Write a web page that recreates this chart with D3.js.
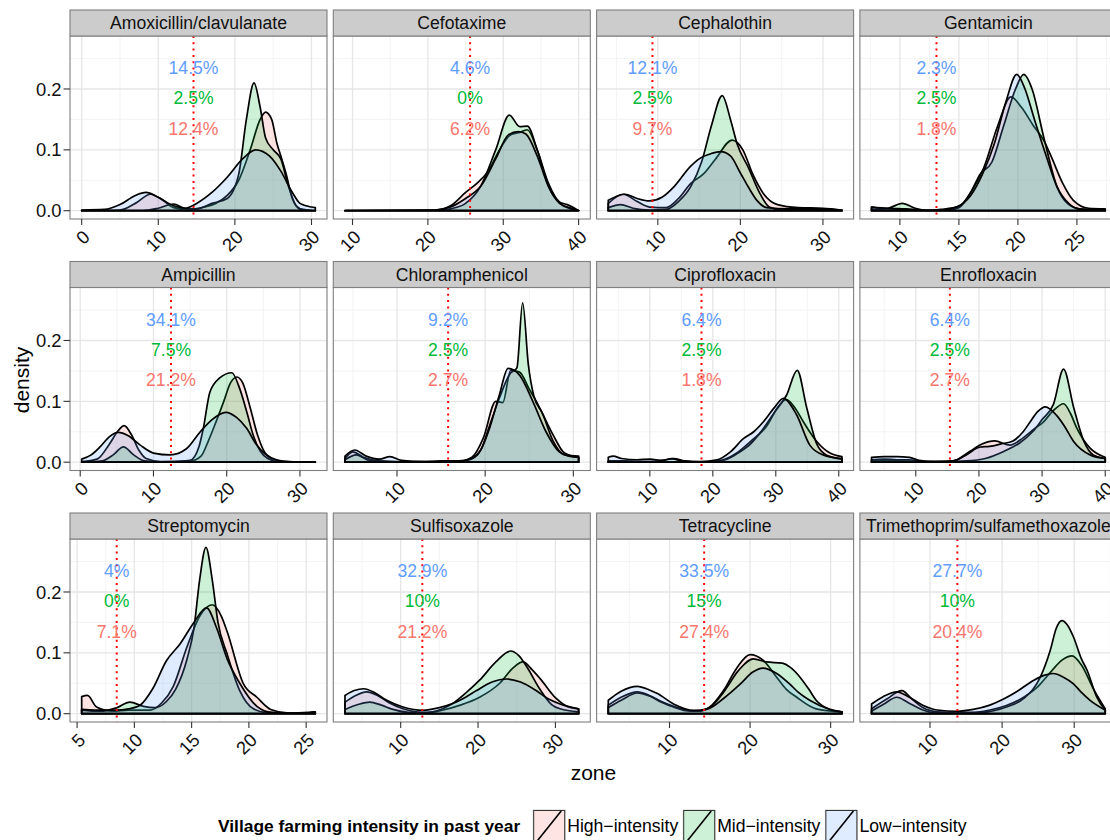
<!DOCTYPE html>
<html>
<head>
<meta charset="utf-8">
<script src="https://cdn.jsdelivr.net/npm/d3@7"></script>
<style>
  html, body { margin: 0; padding: 0; background: #ffffff; }
  svg { display: block; font-family: "Liberation Sans", Arial, Helvetica, sans-serif; }
</style>
</head>
<body>
<svg id="chart" width="1110" height="840"></svg>
<script>
// Antibiotics, one facet each (free x scale per facet)
const drugs = [
  "Amoxicillin/clavulanate", "Cefotaxime", "Cephalothin", "Gentamicin",
  "Ampicillin", "Chloramphenicol", "Ciprofloxacin", "Enrofloxacin",
  "Streptomycin", "Sulfisoxazole", "Tetracycline", "Trimethoprim/sulfamethoxazole"
];

// Resistance breakpoint (zone diameter) per drug
const cutoffs = [14.6, 25.6, 9.35, 13.1, 12.4, 15.8, 18.2, 15.4, 8.46, 12.8, 14.3, 13.8];

// Share resistant by village farming intensity
const pctLow  = ["14.5%", "4.6%", "12.1%", "2.3%", "34.1%", "9.2%", "6.4%", "6.4%", "4%", "32.9%", "33.5%", "27.7%"];
const pctMid  = ["2.5%", "0%", "2.5%", "2.5%", "7.5%", "2.5%", "2.5%", "2.5%", "0%", "10%", "15%", "10%"];
const pctHigh = ["12.4%", "6.2%", "9.7%", "1.8%", "21.2%", "2.7%", "1.8%", "2.7%", "7.1%", "21.2%", "27.4%", "20.4%"];

// Axis breaks per facet
const xTicks = [
  [0, 10, 20, 30], [10, 20, 30, 40], [10, 20, 30], [10, 15, 20, 25],
  [0, 10, 20, 30], [10, 20, 30], [10, 20, 30, 40], [10, 20, 30, 40],
  [5, 10, 15, 20, 25], [10, 20, 30], [10, 20, 30], [10, 20, 30]
];
const yTicks = [0, 0.1, 0.2];

// Density curves: [zone, density] per facet
const highCurves = [
  [[0,0],[5,0.001],[7,0.012],[9,0.027],[10.5,0.018],[12,0.005],[14,0.002],[16,0.006],[17.5,0.012],[19,0.025],[20.5,0.05],[22,0.1],[23.3,0.15],[24,0.162],[24.8,0.15],[25.5,0.11],[26,0.09],[26.7,0.06],[27.5,0.02],[28.5,0.003],[30.5,0]],
  [[9,0],[21,0.001],[23,0.008],[25,0.03],[26.5,0.045],[28,0.065],[29.5,0.1],[31,0.125],[32,0.128],[33.2,0.133],[34.5,0.1],[36,0.045],[37.5,0.014],[38.5,0.01],[40,0]],
  [[4,0.012],[5.8,0.027],[7.5,0.015],[9,0.006],[11,0.005],[12.5,0.02],[14,0.045],[15.5,0.06],[17,0.085],[19,0.116],[20.3,0.1],[21.5,0.06],[22.8,0.028],[24.5,0.01],[27,0.005],[30,0.004],[32.3,0.001]],
  [[7.6,0.006],[9,0.003],[10.5,0.002],[12,0],[13.5,0.002],[15,0.007],[16,0.03],[17.1,0.07],[18.3,0.14],[19.4,0.187],[20.3,0.17],[21.3,0.14],[22.2,0.115],[22.8,0.09],[23.8,0.045],[24.7,0.017],[26,0.004],[27.4,0.003]],
  [[0.2,0.001],[2.3,0.005],[4,0.03],[5.2,0.052],[6,0.06],[7,0.045],[8,0.02],[9,0.006],[11,0.001],[15,0.002],[16.5,0.01],[17.5,0.035],[18.5,0.065],[19.6,0.1],[20.5,0.13],[21.4,0.14],[22.2,0.13],[23.2,0.09],[24.2,0.045],[25.2,0.016],[26.5,0.004],[28,0.001],[32.1,0]],
  [[4.1,0.006],[5,0.017],[6.2,0.008],[8,0.002],[10,0.001],[14,0.001],[17,0.001],[18.5,0.008],[19.8,0.04],[21.2,0.1],[22,0.098],[22.9,0.151],[23.9,0.148],[25,0.12],[25.8,0.1],[26.5,0.08],[27.7,0.045],[29,0.015],[30.6,0.008]],
  [[3.4,0.001],[8,0.001],[15,0],[20,0.001],[22,0.005],[23.8,0.015],[26,0.034],[28.6,0.06],[30.3,0.09],[31.7,0.103],[33,0.09],[34.4,0.066],[36.5,0.034],[38.6,0.015],[40.5,0.009]],
  [[3,0.002],[8,0.002],[12,0.001],[15,0.001],[16.5,0.004],[18.6,0.018],[20.5,0.03],[22.5,0.035],[24.9,0.028],[27,0.04],[28.8,0.055],[30.2,0.066],[31.8,0.085],[33.4,0.096],[34.5,0.08],[35.5,0.056],[37.6,0.023],[40,0.008]],
  [[5.4,0.028],[5.9,0.03],[6.7,0.011],[8.1,0.004],[9.5,0.006],[10.5,0.006],[11.4,0.006],[12.4,0.018],[13.4,0.045],[14.6,0.11],[15.7,0.16],[16.8,0.179],[17.6,0.16],[18.1,0.135],[19.5,0.05],[20.7,0.027],[21.9,0.007],[23.5,0.001],[25.2,0.002],[25.6,0.003],[25.8,0.003]],
  [[2.8,0.019],[4.2,0.03],[5.6,0.036],[7,0.03],[8.5,0.018],[10.3,0.008],[12,0.003],[13.5,0.002],[15.5,0.006],[17.7,0.014],[20.2,0.027],[22.8,0.05],[24.5,0.075],[25.8,0.085],[27,0.072],[28,0.058],[30.1,0.025],[31.5,0.012],[33,0.008]],
  [[2.4,0.014],[4,0.027],[6,0.036],[7.5,0.03],[9,0.02],[10.5,0.012],[12,0.006],[13.5,0.004],[15,0.011],[16.7,0.038],[18.4,0.076],[20,0.097],[21.6,0.088],[23.3,0.06],[24.5,0.04],[25.8,0.027],[28.2,0.008],[31.4,0.003]],
  [[1.9,0.008],[4,0.024],[6.1,0.038],[7.5,0.024],[9,0.01],[11,0.003],[13.7,0.002],[16,0.002],[18.3,0.006],[20.5,0.013],[23,0.027],[25,0.045],[26.7,0.068],[28.3,0.088],[29.7,0.095],[31,0.08],[32.7,0.04],[34.3,0.008]]
];

const midCurves = [
  [[0,0],[8,0],[10,0.004],[12,0.011],[13.5,0.004],[15,0.003],[17,0.012],[19,0.02],[20.5,0.06],[21.5,0.15],[22.5,0.21],[23.3,0.17],[24,0.12],[25,0.1],[26,0.085],[27,0.04],[28,0.008],[29,0.001],[30.5,0]],
  [[9,0],[21,0],[23,0.003],[25,0.012],[27,0.04],[29,0.1],[30.8,0.157],[32.2,0.138],[33.2,0.139],[34.5,0.1],[36,0.04],[37.5,0.012],[39,0.003],[40,0]],
  [[4,0.005],[5.5,0.01],[7,0.004],[9,0.001],[11,0.002],[12.5,0.015],[14,0.04],[15.3,0.08],[16.5,0.14],[17.8,0.189],[18.8,0.15],[19.6,0.11],[21,0.07],[22.3,0.03],[23.5,0.006],[25,0.001],[32.3,0]],
  [[7.6,0.002],[9,0.004],[10.2,0.012],[11.3,0.004],[12.5,0],[14,0.001],[15,0.005],[16,0.03],[16.8,0.06],[17.8,0.08],[18.8,0.14],[19.8,0.2],[20.5,0.224],[21.2,0.2],[22.2,0.12],[23.3,0.04],[24.2,0.012],[25.2,0.003],[27.4,0]],
  [[0.2,0],[3,0.002],[4.5,0.012],[5.9,0.025],[7.3,0.012],[8.8,0.002],[12,0],[15,0.003],[16.2,0.025],[16.8,0.055],[17.7,0.115],[19,0.138],[20.7,0.147],[21.8,0.12],[22.8,0.08],[23.6,0.045],[24.6,0.018],[25.6,0.006],[27,0.001],[32.1,0]],
  [[4.1,0.004],[5.4,0.012],[6.8,0.003],[9,0.001],[12,0],[16,0],[18,0.003],[19.5,0.02],[20.5,0.06],[21.6,0.105],[22.8,0.145],[23.6,0.155],[24.25,0.262],[24.9,0.16],[25.5,0.11],[26.5,0.08],[27.7,0.035],[29,0.012],[30.6,0.01]],
  [[3.4,0.002],[6,0.002],[9,0.001],[12,0.003],[13.8,0.006],[15.5,0.002],[18,0],[20,0.001],[22,0.004],[24,0.015],[26,0.03],[28,0.055],[30,0.085],[31.7,0.11],[33.4,0.151],[34.9,0.09],[36.5,0.03],[38,0.012],[40.5,0.005]],
  [[3,0.004],[5,0.005],[7,0.004],[9,0.004],[11,0.001],[15,0.001],[18,0.002],[21,0.006],[24,0.018],[26.5,0.032],[28.5,0.05],[30,0.07],[31.8,0.095],[33.4,0.153],[35,0.09],[36.6,0.035],[38.1,0.012],[40,0.006]],
  [[5.4,0.006],[7,0.004],[8.5,0.01],[9.6,0.019],[10.8,0.012],[11.8,0.01],[12.8,0.02],[13.6,0.04],[14.6,0.09],[15.2,0.14],[15.7,0.22],[16.25,0.2734],[16.8,0.22],[17.3,0.15],[18.1,0.098],[19.2,0.038],[20.4,0.008],[21.5,0.002],[25.8,0]],
  [[2.8,0.007],[4.5,0.015],[6,0.019],[7.5,0.014],[9,0.007],[11,0.002],[12.5,0.001],[14.5,0.004],[16.5,0.015],[18.5,0.035],[20.2,0.055],[22.3,0.085],[24.2,0.103],[25.3,0.095],[26.3,0.077],[28,0.04],[29.5,0.015],[30.6,0.008],[33,0.003]],
  [[2.4,0.01],[4,0.022],[6,0.034],[7.5,0.029],[9,0.019],[10.5,0.011],[12,0.005],[13.5,0.004],[15,0.01],[16.7,0.035],[18.5,0.07],[20.4,0.09],[22,0.085],[24,0.083],[25,0.076],[26.2,0.06],[27.3,0.04],[28.2,0.022],[29.9,0.007],[31.4,0.003]],
  [[1.9,0.004],[3.5,0.015],[5.4,0.027],[7,0.018],[9,0.006],[11,0.001],[14,0.001],[17,0.002],[20.6,0.011],[23,0.025],[25.3,0.06],[26.7,0.105],[27.5,0.14],[28.3,0.153],[29.1,0.145],[29.9,0.126],[31,0.09],[31.8,0.071],[33.1,0.028],[34.3,0.006]]
];

const lowCurves = [
  [[0,0.001],[3,0.002],[5,0.01],[7,0.025],[8.4,0.03],[10,0.022],[12,0.008],[13.5,0.004],[15,0.012],[17,0.03],[19,0.055],[21,0.085],[22.7,0.1],[24.5,0.09],[26,0.065],[27.5,0.03],[28.5,0.012],[30,0.006],[30.5,0.005]],
  [[9,0],[21,0.001],[23,0.006],[25,0.02],[27,0.04],[29,0.085],[30.7,0.125],[32,0.13],[33,0.126],[34.5,0.09],[36,0.04],[37.5,0.012],[39,0.004],[40,0]],
  [[4,0.017],[6,0.027],[7.5,0.02],[9,0.016],[10.5,0.022],[12,0.04],[13.9,0.072],[15.1,0.086],[16.5,0.094],[17.6,0.097],[18.8,0.09],[20,0.062],[21,0.038],[22,0.017],[23.2,0.005],[26,0.003],[30,0.003],[32.3,0.001]],
  [[7.6,0.006],[9,0.004],[10.5,0.003],[12,0.001],[13.5,0.001],[14.8,0.006],[16,0.025],[17,0.06],[18,0.11],[19,0.18],[19.9,0.224],[20.6,0.2],[21.4,0.15],[22.4,0.09],[23.3,0.04],[24.3,0.012],[25.2,0.003],[27.4,0.001]],
  [[0.2,0.005],[1.5,0.012],[2.7,0.025],[4,0.042],[5.2,0.049],[6.5,0.044],[8.2,0.028],[10,0.015],[12.3,0.012],[14.5,0.022],[16.4,0.05],[18,0.07],[19.9,0.082],[21.3,0.074],[22.7,0.056],[24,0.03],[25.3,0.013],[26.8,0.004],[28.5,0.001],[32.1,0]],
  [[4.1,0.01],[5.2,0.02],[6.5,0.01],[8,0.005],[9.2,0.009],[10.5,0.003],[13,0.001],[15,0.002],[17,0.002],[18.5,0.006],[19.5,0.02],[20.5,0.056],[21.6,0.11],[22.6,0.154],[23.9,0.143],[25.4,0.1],[26.9,0.05],[28.4,0.017],[29.5,0.01],[30.6,0.008]],
  [[3.4,0.008],[4.2,0.01],[5.5,0.006],[8,0.004],[10,0.005],[12,0.003],[13.5,0.006],[15,0.002],[18,0.001],[20.7,0.004],[22.8,0.017],[24.9,0.039],[26.5,0.05],[28,0.066],[29.8,0.09],[31.2,0.105],[33.3,0.078],[35.4,0.028],[37.5,0.012],[40.5,0.006]],
  [[3,0.008],[5,0.009],[7,0.009],[9,0.008],[10.5,0.003],[13,0.001],[15.9,0.002],[18,0.012],[20.2,0.025],[21.7,0.026],[23.5,0.03],[25.4,0.035],[27,0.05],[28.1,0.066],[29.3,0.083],[30.5,0.091],[32.3,0.077],[33.5,0.06],[35,0.034],[37.6,0.012],[40,0.006]],
  [[5.4,0.007],[6.5,0.006],[8.4,0.006],[9.5,0.008],[10.5,0.014],[11.6,0.041],[12.8,0.087],[14,0.115],[15.2,0.15],[16.3,0.174],[17.2,0.14],[18.1,0.09],[19.2,0.05],[20.7,0.012],[22,0.002],[25.8,0]],
  [[2.8,0.03],[4,0.038],[5.2,0.041],[6.7,0.034],[8.2,0.022],[10.3,0.011],[12.9,0.0055],[15,0.01],[16.8,0.017],[18.5,0.028],[19.8,0.038],[21.8,0.052],[23.7,0.057],[25.5,0.052],[27.5,0.038],[29,0.025],[30.6,0.016],[33,0.008]],
  [[2.4,0.022],[4,0.037],[6,0.045],[7.5,0.039],[8.5,0.033],[10.5,0.016],[13,0.0055],[14.8,0.008],[16.7,0.025],[18.8,0.049],[20.3,0.068],[21.6,0.075],[23.2,0.067],[24.9,0.049],[26,0.035],[27.4,0.022],[29.9,0.007],[31.4,0.003]],
  [[1.9,0.016],[3.5,0.028],[5.4,0.036],[7,0.028],[9,0.014],[11,0.006],[13.7,0.004],[16,0.007],[18.3,0.014],[20.2,0.024],[22,0.036],[24.4,0.055],[25.8,0.063],[27.1,0.066],[28.5,0.06],[29.9,0.049],[31,0.035],[32.2,0.022],[34.3,0.006]]
];

// Groups in drawing order (legend order as well)
const groups = [
  { label: "High\u2212intensity", color: "#F8766D", curves: highCurves, pct: pctHigh, labelY: 0.135 },
  { label: "Mid\u2212intensity",  color: "#00BA38", curves: midCurves,  pct: pctMid,  labelY: 0.185 },
  { label: "Low\u2212intensity",  color: "#619CFF", curves: lowCurves,  pct: pctLow,  labelY: 0.235 }
];

// ---- layout ----
const L = { left: 70, top: 10, pitchX: 263.3, pitchY: 251.5, panelW: 257, stripH: 26, panelH: 183 };
const FONT = 17.6;
const TICK_FONT = 18.4;
const svg = d3.select("#chart");

const maxD = d3.max(groups, g => d3.max(g.curves, c => d3.max(c, p => p[1])));
const y = d3.scaleLinear().domain([-0.05 * maxD, 1.05 * maxD]).range([L.panelH, 0]);

const defs = svg.append("defs");

drugs.forEach((name, i) => {
  const col = i % 4, row = Math.floor(i / 4);
  const px = L.left + col * L.pitchX;
  const sy = L.top + row * L.pitchY;
  const py = sy + L.stripH;

  const ext = d3.extent(groups.flatMap(g => g.curves[i].map(p => p[0])));
  const pad = (ext[1] - ext[0]) * 0.05;
  const x = d3.scaleLinear().domain([ext[0] - pad, ext[1] + pad]).range([0, L.panelW]);
  const [d0, d1] = x.domain();

  const g = svg.append("g").attr("transform", `translate(${px},${py})`);

  defs.append("clipPath").attr("id", "clip" + i)
    .append("rect").attr("width", L.panelW).attr("height", L.panelH);

  g.append("rect").attr("width", L.panelW).attr("height", L.panelH).attr("fill", "#ffffff");

  // minor grid
  const tks = xTicks[i];
  const step = tks[1] - tks[0];
  const xMinor = d3.range(tks[0] - step / 2, tks[tks.length - 1] + step, step).filter(v => v > d0 && v < d1);
  const yMinor = [-0.05, 0.05, 0.15, 0.25].filter(v => v > y.domain()[0] && v < y.domain()[1]);
  const grid = g.append("g").attr("clip-path", `url(#clip${i})`);
  grid.selectAll(".xmin").data(xMinor).join("line")
    .attr("x1", d => x(d)).attr("x2", d => x(d)).attr("y1", 0).attr("y2", L.panelH)
    .attr("stroke", "#F4F4F4").attr("stroke-width", 1.1);
  grid.selectAll(".ymin").data(yMinor).join("line")
    .attr("x1", 0).attr("x2", L.panelW).attr("y1", d => y(d)).attr("y2", d => y(d))
    .attr("stroke", "#F4F4F4").attr("stroke-width", 1.1);
  // major grid
  grid.selectAll(".xmaj").data(tks).join("line")
    .attr("x1", d => x(d)).attr("x2", d => x(d)).attr("y1", 0).attr("y2", L.panelH)
    .attr("stroke", "#E6E6E6").attr("stroke-width", 1.3);
  grid.selectAll(".ymaj").data(yTicks).join("line")
    .attr("x1", 0).attr("x2", L.panelW).attr("y1", d => y(d)).attr("y2", d => y(d))
    .attr("stroke", "#E6E6E6").attr("stroke-width", 1.3);

  // densities
  const area = d3.area()
    .x(d => x(d[0])).y0(y(0)).y1(d => y(d[1]))
    .curve(d3.curveMonotoneX);
  const marks = g.append("g").attr("clip-path", `url(#clip${i})`);
  groups.forEach(gr => {
    marks.append("path")
      .attr("d", area(gr.curves[i]))
      .attr("fill", gr.color).attr("fill-opacity", 0.2)
      .attr("stroke", "#000").attr("stroke-width", 1.7)
      .attr("stroke-linejoin", "round");
  });

  // breakpoint
  marks.append("line")
    .attr("x1", x(cutoffs[i])).attr("x2", x(cutoffs[i]))
    .attr("y1", 0).attr("y2", L.panelH)
    .attr("stroke", "#FF0000").attr("stroke-width", 2)
    .attr("stroke-dasharray", "2,4.3");

  // share labels
  groups.forEach(gr => {
    g.append("text")
      .attr("x", x(cutoffs[i])).attr("y", y(gr.labelY))
      .attr("dy", "0.36em").attr("text-anchor", "middle")
      .attr("font-size", FONT).attr("fill", gr.color)
      .text(gr.pct[i]);
  });

  // panel border
  g.append("rect").attr("width", L.panelW).attr("height", L.panelH)
    .attr("fill", "none").attr("stroke", "#7F7F7F").attr("stroke-width", 1.1);

  // strip
  svg.append("rect").attr("x", px).attr("y", sy).attr("width", L.panelW).attr("height", L.stripH)
    .attr("fill", "#CCCCCC").attr("stroke", "#7F7F7F").attr("stroke-width", 1.1);
  svg.append("text").attr("x", px + L.panelW / 2).attr("y", sy + L.stripH / 2)
    .attr("dy", "0.36em").attr("text-anchor", "middle")
    .attr("font-size", FONT).attr("fill", "#111").text(name);

  // x axis
  const xa = g.append("g").attr("transform", `translate(0,${L.panelH})`);
  xa.selectAll("line").data(tks).join("line")
    .attr("x1", d => x(d)).attr("x2", d => x(d)).attr("y1", 0).attr("y2", 6)
    .attr("stroke", "#333").attr("stroke-width", 1.1);
  xa.selectAll("text").data(tks).join("text")
    .attr("transform", d => `translate(${x(d)},10) rotate(-45)`)
    .attr("text-anchor", "end").attr("dy", "0.72em")
    .attr("font-size", TICK_FONT).attr("fill", "#111")
    .text(d => d);

  // y axis (first column only)
  if (col === 0) {
    const ya = g.append("g");
    ya.selectAll("line").data(yTicks).join("line")
      .attr("x1", -6.5).attr("x2", 0).attr("y1", d => y(d)).attr("y2", d => y(d))
      .attr("stroke", "#333").attr("stroke-width", 1.1);
    ya.selectAll("text").data(yTicks).join("text")
      .attr("x", -8.5).attr("y", d => y(d)).attr("dy", "0.36em")
      .attr("text-anchor", "end").attr("font-size", TICK_FONT).attr("fill", "#111")
      .text(d3.format(".1f"));
  }
});

// axis titles
svg.append("text").attr("x", L.left + (3 * L.pitchX + L.panelW) / 2).attr("y", 772)
  .attr("dy", "0.36em").attr("text-anchor", "middle").attr("font-size", 21)
  .attr("fill", "#000").text("zone");
svg.append("text").attr("transform", "translate(21,380) rotate(-90)")
  .attr("dy", "0.36em").attr("text-anchor", "middle").attr("font-size", 21)
  .attr("fill", "#000").text("density");

// legend
const leg = svg.append("g");
const keySize = 32, legTop = 810, legMid = legTop + keySize / 2;
const title = leg.append("text").attr("x", 218).attr("y", legMid).attr("dy", "0.36em")
  .attr("font-size", 17.4).attr("font-weight", "bold").attr("fill", "#000")
  .text("Village farming intensity in past year");
let cx = 218 + title.node().getComputedTextLength() + 13;
groups.forEach(gr => {
  leg.append("rect").attr("x", cx).attr("y", legTop).attr("width", keySize).attr("height", keySize)
    .attr("fill", "#ffffff").attr("stroke", "#CCCCCC");
  leg.append("rect").attr("x", cx + 0.5).attr("y", legTop + 0.5).attr("width", keySize - 1).attr("height", keySize - 1)
    .attr("fill", gr.color).attr("fill-opacity", 0.2).attr("stroke", "#333").attr("stroke-width", 1);
  leg.append("line").attr("x1", cx + 4).attr("y1", legTop + keySize - 1).attr("x2", cx + keySize - 4).attr("y2", legTop + 1)
    .attr("stroke", "#000").attr("stroke-width", 1.6);
  const t = leg.append("text").attr("x", cx + keySize + 2).attr("y", legMid).attr("dy", "0.36em")
    .attr("font-size", FONT).attr("fill", "#000").text(gr.label);
  cx += keySize + 2 + t.node().getComputedTextLength() + 5;
});
</script>
</body>
</html>
